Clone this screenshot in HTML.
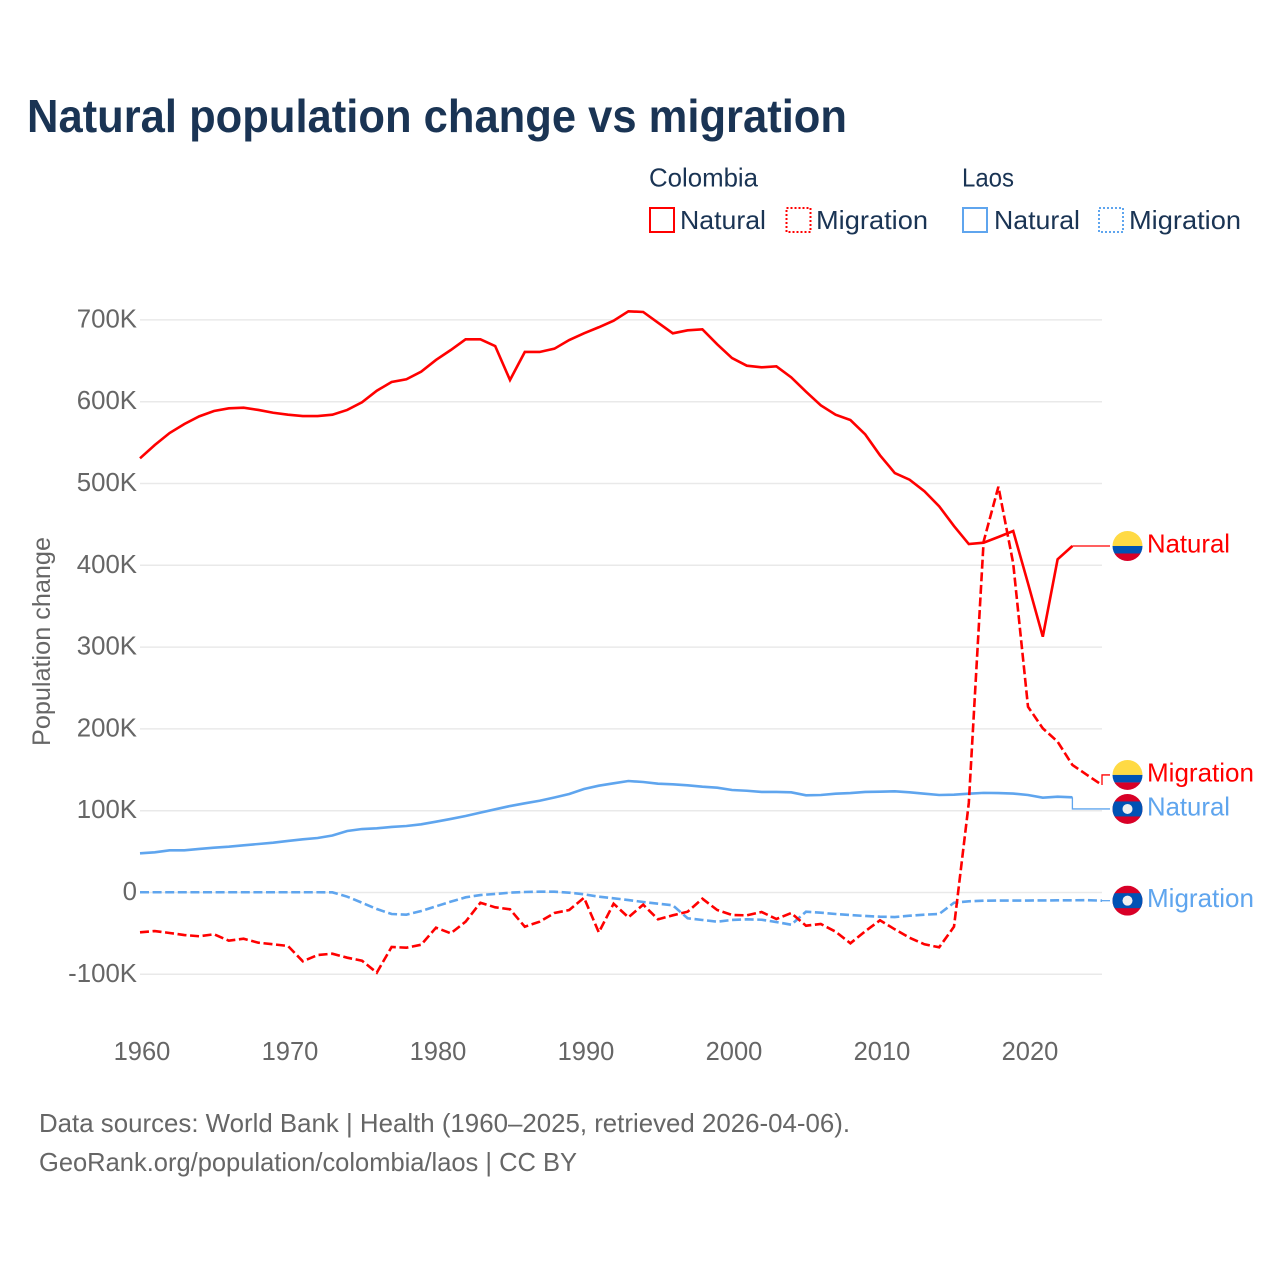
<!DOCTYPE html>
<html lang="en">
<head>
<meta charset="utf-8">
<title>Natural population change vs migration</title>
<style>
html,body{margin:0;padding:0;background:#fff;}
svg{display:block;font-family:"Liberation Sans",sans-serif;}
</style>
</head>
<body>
<svg id="chart" xmlns="http://www.w3.org/2000/svg" width="1280" height="1280" viewBox="0 0 1280 1280">
  <defs>
    <clipPath id="flag-clip"><circle cx="0" cy="0" r="15"></circle></clipPath>
    <g id="flag-colombia" clip-path="url(#flag-clip)">
      <rect x="-15" y="-15" width="30" height="15" fill="#ffda44"></rect>
      <rect x="-15" y="0" width="30" height="7.5" fill="#0052b4"></rect>
      <rect x="-15" y="7.5" width="30" height="7.5" fill="#d80027"></rect>
    </g>
    <g id="flag-laos" clip-path="url(#flag-clip)">
      <rect x="-15" y="-15" width="30" height="30" fill="#d80027"></rect>
      <rect x="-15" y="-7.5" width="30" height="15" fill="#0052b4"></rect>
      <circle cx="0" cy="0" r="5" fill="#f0f0f0"></circle>
    </g>
  </defs>

  <text x="27" y="132" font-size="46" font-weight="700" fill="#1a3454" textLength="820" lengthAdjust="spacingAndGlyphs">Natural population change vs migration</text>

  <g font-size="26" fill="#1a3454">
    <text x="649" y="186.5" textLength="109" lengthAdjust="spacingAndGlyphs">Colombia</text>
    <text x="962" y="186.5" textLength="52" lengthAdjust="spacingAndGlyphs">Laos</text>
    <g>
      <rect x="650" y="208" width="24" height="24" fill="none" stroke="#ff0000" stroke-width="2"></rect>
      <text x="680" y="229" textLength="86" lengthAdjust="spacingAndGlyphs">Natural</text>
    </g>
    <g>
      <rect x="786.5" y="208" width="24" height="24" fill="none" stroke="#ff0000" stroke-width="2" stroke-dasharray="2,2"></rect>
      <text x="816" y="229" textLength="112" lengthAdjust="spacingAndGlyphs">Migration</text>
    </g>
    <g>
      <rect x="963" y="208" width="24" height="24" fill="none" stroke="#5fa5ee" stroke-width="2"></rect>
      <text x="994" y="229" textLength="86" lengthAdjust="spacingAndGlyphs">Natural</text>
    </g>
    <g>
      <rect x="1099" y="208" width="24" height="24" fill="none" stroke="#5fa5ee" stroke-width="2" stroke-dasharray="2,2"></rect>
      <text x="1129" y="229" textLength="112" lengthAdjust="spacingAndGlyphs">Migration</text>
    </g>
  </g>

  <g id="grid"></g>
  <g id="y-ticks"></g>
  <g id="x-ticks"></g>
  <text transform="translate(50,746) rotate(-90)" font-size="25" fill="#666666" textLength="209" lengthAdjust="spacingAndGlyphs">Population change</text>
  <g id="series"></g>
  <g id="end-labels"></g>

  <text x="39" y="1132" font-size="26" fill="#666666" textLength="811" lengthAdjust="spacingAndGlyphs">Data sources: World Bank | Health (1960–2025, retrieved 2026-04-06).</text>
  <text x="39" y="1171" font-size="26" fill="#666666" textLength="538" lengthAdjust="spacingAndGlyphs">GeoRank.org/population/colombia/laos | CC BY</text>
</svg>
<script>
const startYear = 1960;
const yTickValues = [700, 600, 500, 400, 300, 200, 100, 0, -100];
const yTickLabels = ["700K", "600K", "500K", "400K", "300K", "200K", "100K", "0", "-100K"];
const xTickValues = [1960, 1970, 1980, 1990, 2000, 2010, 2020];
const xTickLabels = ["1960", "1970", "1980", "1990", "2000", "2010", "2020"];

const colombiaNatural = [530.8,547,561.7,572.7,582.1,588.6,591.9,592.7,589.9,586.5,584.1,582.5,582.5,584.1,589.9,599.3,613.4,624.1,627.4,636.7,651,663.2,676.3,676.3,668,626.5,660.8,660.8,664.8,675.4,683.6,691,699,710.5,709.7,696.6,683.6,687.3,688.5,670.2,653.4,644,642,643.3,629.8,612.2,595.6,584.1,577.6,560.1,534.5,512.8,504.6,490.5,472.1,448,426,427.6,434.6,441.9,378,312.7,407.3,423.6];
const colombiaMigration = [-48.7,-47.1,-49.5,-52,-53.5,-51.1,-58.9,-56.5,-61.4,-63.3,-65.4,-84.1,-76.4,-74.8,-79.7,-83.4,-98,-66.6,-67.5,-63.8,-43,-49.9,-35.7,-12.5,-18.1,-20.5,-41.8,-35.7,-25.1,-21.4,-6.4,-48.7,-13.7,-30.3,-14.9,-32.8,-27.9,-23.5,-7.6,-21.4,-27.5,-27.9,-23.8,-32.4,-25.1,-40.6,-38.5,-47.9,-62.1,-47.4,-34,-45,-55.3,-63.3,-67,-41.8,109.4,428.9,496.1,402.4,227.1,200.7,184.4,155.9,143.6,131.4];
const laosNatural = [47.9,49.1,51.6,51.6,53.2,54.8,56,57.7,59.3,60.9,63,65,66.6,69.7,75.2,77.6,78.5,80.1,81.3,83.4,86.6,89.9,93.5,97.6,101.7,105.7,109,112.2,116.1,120.4,126.5,130.6,133.5,136.3,135.1,133,132.3,131,129.3,128.1,125.3,124.4,122.9,122.9,122.5,118.8,119.2,120.8,121.6,122.9,123.2,123.7,122.5,120.8,119.2,119.6,120.8,121.8,121.6,121,119.2,115.9,117.1,116.4];
const laosMigration = [0.3,0.3,0.3,0.3,0.3,0.3,0.3,0.3,0.3,0.3,0.3,0.3,0.3,0.2,-5.1,-12.5,-20.2,-26.3,-27.1,-22.6,-16.9,-11.2,-5.9,-3.1,-1.8,-0.2,0.6,1,1,-0.2,-2.2,-5.1,-7.1,-9.2,-11.6,-13.7,-15.6,-31.5,-33.6,-35.7,-33.6,-32.8,-33.3,-36.1,-39.4,-23.5,-24.7,-26.3,-27.5,-28.7,-29.6,-30,-28.4,-27.1,-26.3,-12.5,-10.8,-10,-9.8,-9.8,-9.8,-9.7,-9.6,-9.5,-9.4,-10];

const RED = "#ff0000";
const BLUE = "#5fa5ee";
const SVGNS = "http://www.w3.org/2000/svg";

function x(year) { return 140 + (year - 1960) * (1102 - 140) / 65; }
function y(value) { return 892.5 - value * 0.818; }

function make(tag, attrs, parent) {
  const el = document.createElementNS(SVGNS, tag);
  for (const k in attrs) el.setAttribute(k, attrs[k]);
  parent.appendChild(el);
  return el;
}

const grid = document.getElementById("grid");
const yTicks = document.getElementById("y-ticks");
yTickValues.forEach(function (v, i) {
  const line = make("line", { x1: 140, x2: 1102, y1: y(v), y2: y(v), stroke: "#e9e9e9", "stroke-width": 1.5 }, grid);
  
  
  const t = make("text", { x: 137, y: y(v) + 7.5, "text-anchor": "end", "font-size": 25.8, fill: "#666666" }, yTicks);
  
  
  t.textContent = yTickLabels[i];
});

const xTicks = document.getElementById("x-ticks");
xTickValues.forEach(function (v, i) {
  const t = make("text", { x: x(v) + 2, y: 1060, "text-anchor": "middle", "font-size": 25.5, fill: "#666666" }, xTicks);
  
  
  t.textContent = xTickLabels[i];
});

const seriesList = [
  { key: "laos-migration", values: laosMigration, color: BLUE, dash: true, label: "Migration", flag: "#flag-laos" },
  { key: "laos-natural", values: laosNatural, color: BLUE, dash: false, label: "Natural", flag: "#flag-laos" },
  { key: "colombia-migration", values: colombiaMigration, color: RED, dash: true, label: "Migration", flag: "#flag-colombia" },
  { key: "colombia-natural", values: colombiaNatural, color: RED, dash: false, label: "Natural", flag: "#flag-colombia" }
];

const seriesLayer = document.getElementById("series");
seriesList.forEach(function (s) {
  const pts = s.values.map(function (v, i) { return x(startYear + i).toFixed(2) + "," + y(v).toFixed(2); }).join(" ");
  const line = make("polyline", { points: pts, fill: "none", stroke: s.color, "stroke-width": 2.6, "stroke-linejoin": "miter" }, seriesLayer);
  if (s.dash) line.setAttribute("stroke-dasharray", "9,3.6");
  
  
  s.endX = x(startYear + s.values.length - 1);
  s.endY = y(s.values[s.values.length - 1]);
  s.labelY = s.endY;
});

/* Resolve end-label collisions by spreading close neighbours around their mean. */
const sorted = seriesList.slice().sort(function (a, b) { return a.endY - b.endY; });
const MIN_GAP = 34;
for (let i = 0; i < sorted.length - 1; i++) {
  const a = sorted[i], b = sorted[i + 1];
  if (b.labelY - a.labelY < MIN_GAP) {
    const mid = (a.labelY + b.labelY) / 2 + 0.8;
    a.labelY = mid - MIN_GAP / 2;
    b.labelY = mid + MIN_GAP / 2;
  }
}

const endLayer = document.getElementById("end-labels");
seriesList.forEach(function (s) {
  const connector = make("polyline", {
    points: s.endX + "," + s.endY + " " + s.endX + "," + s.labelY + " 1110," + s.labelY,
    fill: "none", stroke: s.color, "stroke-width": 1.3
  }, endLayer);
  
  

  const flag = make("use", { href: s.flag, transform: "translate(1127.5," + s.labelY + ")" }, endLayer);
  
  

  const text = make("text", { x: 1147, y: s.labelY + 6.5, "font-size": 26, fill: s.color, textLength: s.label === "Natural" ? 83 : 107, lengthAdjust: "spacingAndGlyphs" }, endLayer);
  
  
  text.textContent = s.label;
});
</script>
</body>
</html>
